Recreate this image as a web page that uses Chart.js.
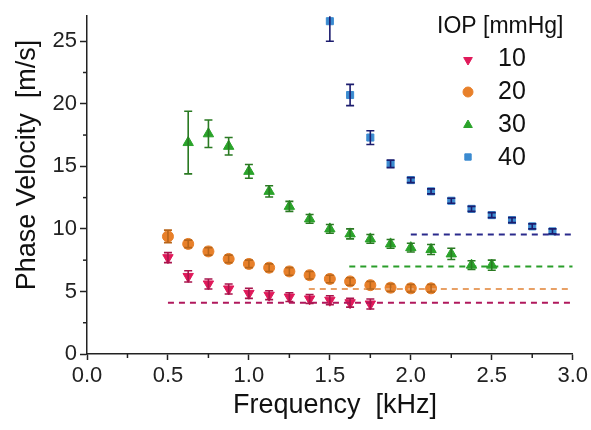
<!DOCTYPE html>
<html>
<head>
<meta charset="utf-8">
<script src="https://cdn.jsdelivr.net/npm/chart.js@4/dist/chart.umd.min.js"></script>
<style>
  html, body { margin: 0; padding: 0; background: #fff; }
  #wrap { width: 591px; height: 430px; }
</style>
</head>
<body>
<div id="wrap"><canvas id="velocityChart" width="591" height="430"></canvas></div>
<script>
// Frequency [kHz] for each IOP group
const freq10 = [0.5, 0.625, 0.75, 0.875, 1.0, 1.125, 1.25, 1.375, 1.5, 1.625, 1.75];
const freq20 = [0.5, 0.625, 0.75, 0.875, 1.0, 1.125, 1.25, 1.375, 1.5, 1.625, 1.75, 1.875, 2.0, 2.125];
const freq30 = [0.625, 0.75, 0.875, 1.0, 1.125, 1.25, 1.375, 1.5, 1.625, 1.75, 1.875, 2.0, 2.125, 2.25, 2.375, 2.5];
const freq40 = [1.5, 1.625, 1.75, 1.875, 2.0, 2.125, 2.25, 2.375, 2.5, 2.625, 2.75, 2.875];

// Phase velocity [m/s]
const vel10 = [7.7, 6.2, 5.6, 5.2, 4.85, 4.7, 4.55, 4.4, 4.3, 4.1, 4.0];
const vel20 = [9.4, 8.8, 8.2, 7.6, 7.2, 6.9, 6.6, 6.3, 6.0, 5.8, 5.5, 5.3, 5.25, 5.25];
const vel30 = [16.9, 17.6, 16.6, 14.6, 13.0, 11.8, 10.8, 10.0, 9.6, 9.2, 8.8, 8.5, 8.35, 8.0, 7.1, 7.1];
const vel40 = [26.6, 20.7, 17.3, 15.2, 13.9, 13.0, 12.25, 11.6, 11.1, 10.7, 10.2, 9.8];

// Error (half width) [m/s]
const err10 = [0.4, 0.45, 0.4, 0.4, 0.4, 0.35, 0.35, 0.35, 0.35, 0.35, 0.4];
const err20 = [0.5, 0.3, 0.3, 0.3, 0.3, 0.3, 0.3, 0.3, 0.3, 0.3, 0.3, 0.3, 0.3, 0.3];
const err30 = [2.5, 1.1, 0.7, 0.55, 0.45, 0.4, 0.35, 0.35, 0.4, 0.35, 0.35, 0.35, 0.4, 0.45, 0.35, 0.4];
const err40 = [1.6, 0.85, 0.55, 0.3, 0.2, 0.2, 0.2, 0.2, 0.2, 0.2, 0.2, 0.2];

// Plateau (dashed) levels and where they start
const plateauLevels = [4.1, 5.2, 7.0, 9.55];
const plateauStart = [0.5, 1.37, 1.62, 2.0];
const plateauEnd = 3.0;

const iopLabels = ["10", "20", "30", "40"];

const markerColours = ["#e0195a", "#e8802a", "#2aa32a", "#3b8bd0"];
const errorColours = ["#a8144c", "#b8651a", "#2a7a22", "#1c1c6e"];
const dashColours = ["#b0185c", "#e8a065", "#2a9e2a", "#2a2a8c"];
const pointStyles = ["triangle", "circle", "triangle", "rect"];
const pointRotations = [180, 0, 0, 0];
const pointSizes = [6, 5.5, 6, 5];

const FONT = "'Liberation Sans', Arial, sans-serif";

function toPoints(xs, ys) {
  return xs.map((x, i) => ({ x: x, y: ys[i] }));
}
function isHalf(v) {
  return Math.abs(v * 2 - Math.round(v * 2)) < 1e-6;
}

const freqs = [freq10, freq20, freq30, freq40];
const vels = [vel10, vel20, vel30, vel40];
const errs = [err10, err20, err30, err40];

var datasets = [];
// dashed plateau lines first so markers sit on top
plateauLevels.forEach((level, i) => {
  datasets.push({
    type: "line",
    data: [{ x: plateauStart[i], y: level }, { x: plateauEnd, y: level }],
    borderColor: dashColours[i],
    borderWidth: 2,
    borderDash: [6, 5],
    pointRadius: 0,
  });
});
vels.forEach((v, i) => {
  datasets.push({
    type: "scatter",
    label: iopLabels[i],
    data: toPoints(freqs[i], v),
    errors: errs[i],
    errorColour: errorColours[i],
    backgroundColor: markerColours[i],
    borderColor: markerColours[i],
    pointStyle: pointStyles[i],
    rotation: pointRotations[i],
    pointRadius: pointSizes[i],
    pointHoverRadius: pointSizes[i],
  });
});

// Draws vertical error bars with caps using the chart scales
const errorBarPlugin = {
  id: "errorBars",
  afterDatasetsDraw(chart) {
    const ctx = chart.ctx;
    const xs = chart.scales.x;
    const ys = chart.scales.y;
    const area = chart.chartArea;
    ctx.save();
    ctx.beginPath();
    ctx.rect(area.left, area.top, area.width, area.height);
    ctx.clip();
    chart.data.datasets.forEach((ds) => {
      if (!ds.errors) return;
      ctx.strokeStyle = ds.errorColour;
      ctx.lineWidth = 1.6;
      ds.data.forEach((p, j) => {
        const e = ds.errors[j];
        const px = xs.getPixelForValue(p.x);
        const top = ys.getPixelForValue(p.y + e);
        const bot = ys.getPixelForValue(p.y - e);
        ctx.beginPath();
        ctx.moveTo(px, top);
        ctx.lineTo(px, bot);
        ctx.moveTo(px - 4, top);
        ctx.lineTo(px + 4, top);
        ctx.moveTo(px - 4, bot);
        ctx.lineTo(px + 4, bot);
        ctx.stroke();
      });
    });
    ctx.restore();
  },
};

// Minor ticks (shorter) plus the two axis titles
const axisExtrasPlugin = {
  id: "axisExtras",
  afterDraw(chart) {
    const ctx = chart.ctx;
    const xs = chart.scales.x;
    const ys = chart.scales.y;
    const area = chart.chartArea;
    ctx.save();
    ctx.strokeStyle = "#222";
    ctx.lineWidth = 1.5;
    xs.ticks.forEach((t) => {
      if (isHalf(t.value)) return;
      const px = xs.getPixelForValue(t.value);
      ctx.beginPath();
      ctx.moveTo(px, area.bottom);
      ctx.lineTo(px, area.bottom + 4);
      ctx.stroke();
    });
    ys.ticks.forEach((t) => {
      if (t.value % 5 === 0) return;
      const py = ys.getPixelForValue(t.value);
      ctx.beginPath();
      ctx.moveTo(area.left, py);
      ctx.lineTo(area.left - 4, py);
      ctx.stroke();
    });

    ctx.fillStyle = "#111";
    ctx.font = "27px " + FONT;
    ctx.textAlign = "center";
    ctx.textBaseline = "alphabetic";
    ctx.fillText("Frequency  [kHz]", 335, 413);
    ctx.translate(35, 165);
    ctx.rotate(-Math.PI / 2);
    ctx.fillText("Phase Velocity  [m/s]", 0, 0);
    ctx.restore();
  },
};

// Legend in the top right, with title
const legendPlugin = {
  id: "iopLegend",
  afterDraw(chart) {
    const ctx = chart.ctx;
    const markerRows = [60, 92, 125, 157];
    const textRows = [58, 91, 124, 157];
    ctx.save();
    ctx.fillStyle = "#111";
    ctx.textBaseline = "middle";
    ctx.textAlign = "left";
    ctx.font = "23px " + FONT;
    ctx.fillText("IOP [mmHg]", 437, 27);
    ctx.font = "25px " + FONT;
    iopLabels.forEach((lab, i) => {
      ctx.fillStyle = markerColours[i];
      ctx.strokeStyle = markerColours[i];
      ctx.lineWidth = 1;
      Chart.helpers.drawPoint(ctx, {
        pointStyle: pointStyles[i],
        rotation: pointRotations[i],
        radius: i === 3 ? 4.5 : 5,
        borderWidth: 1,
      }, 468, markerRows[i]);
      ctx.fillStyle = "#111";
      ctx.fillText(lab, 498, textRows[i] + 1);
    });
    ctx.restore();
  },
};

var ctx = document.getElementById("velocityChart").getContext("2d");
window.velocityChart = new Chart(ctx, {
  data: { datasets: datasets },
  plugins: [errorBarPlugin, axisExtrasPlugin, legendPlugin],
  options: {
    responsive: false,
    animation: false,
    events: [],
    layout: { padding: { top: 9, right: 17, left: 0, bottom: 0 } },
    plugins: {
      legend: { display: false },
      tooltip: { enabled: false },
    },
    scales: {
      x: {
        type: "linear",
        min: 0,
        max: 3,
        grid: {
          drawOnChartArea: false,
          tickLength: 6,
          tickWidth: 1.5,
          tickColor: (c) => (isHalf(c.tick.value) ? "#222" : "rgba(0,0,0,0)"),
        },
        border: { color: "#222", width: 1.5 },
        ticks: {
          stepSize: 0.25,
          autoSkip: false,
          maxRotation: 0,
          color: "#222",
          padding: 3,
          font: { size: 22, family: FONT },
          callback: (v) => (isHalf(v) ? v.toFixed(1) : ""),
        },
        afterFit: (s) => { s.height = 76; },
      },
      y: {
        type: "linear",
        min: 0,
        max: 27,
        grid: {
          drawOnChartArea: false,
          tickLength: 7,
          tickWidth: 1.5,
          tickColor: (c) => (c.tick.value % 5 === 0 ? "#222" : "rgba(0,0,0,0)"),
        },
        border: { color: "#222", width: 1.5 },
        ticks: {
          stepSize: 2.5,
          includeBounds: false,
          autoSkip: false,
          color: "#222",
          padding: 3,
          font: { size: 22, family: FONT },
          callback: (v) => (v % 5 === 0 ? String(v) : ""),
        },
        afterFit: (s) => { s.width = 87; },
      },
    },
  },
});
</script>
</body>
</html>
